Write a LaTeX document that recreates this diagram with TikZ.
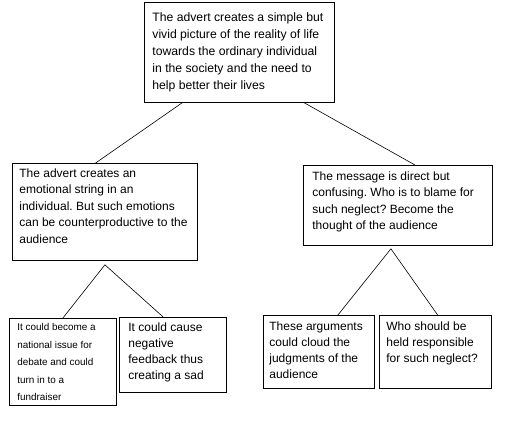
\documentclass[tikz,border=0pt]{standalone}
\usepackage{fontspec}
\setmainfont{Liberation Sans}
\usetikzlibrary{calc}
\frenchspacing

\begin{document}
\begin{tikzpicture}[x=1pt, y=-1pt,
  card/.style={draw, line width=0.8pt, anchor=north west, inner xsep=7pt,
    inner ysep=5pt, font=\fontsize{12}{16.5}\selectfont},
  smallcard/.style={card, font=\fontsize{9.9}{17.6}\selectfont},
  link/.style={draw, line width=0.6pt}]
  \useasboundingbox (0,0) rectangle (506,421);
  % top claim
  \node[card, inner xsep=8pt, inner ysep=10pt, font=\fontsize{12.2}{17}\selectfont] (top) at (144,2)
    {\parbox[t][80pt][t]{174pt}{\raggedright The advert creates a simple but\\
      vivid picture of the reality of life\\ towards the ordinary individual\\
      in the society and the need to\\ help better their lives}};
  % second level
  \node[card] (emotion) at (12,163)
    {\parbox[t][87pt][t]{171pt}{\raggedright The advert creates an\\
      emotional string in an\\ individual. But such emotions\\
      can be counterproductive to the\\ audience}};
  \node[card, inner xsep=9pt, inner ysep=6pt] (message) at (303,165)
    {\parbox[t][68pt][t]{171pt}{\raggedright The message is direct but\\
      confusing. Who is to blame for\\ such neglect? Become the\\
      thought of the audience}};
  % third level
  \node[smallcard, inner xsep=8pt] (debate) at (9,318)
    {\parbox[t][77pt][t]{91pt}{\raggedright It could become a\\
      national issue for\\ debate and could\\ turn in to a\\ fundraiser}};
  \node[card, inner xsep=9pt, font=\fontsize{12}{16}\selectfont] (feedback) at (119,317)
    {\parbox[t][65pt][t]{89pt}{\raggedright It could cause\\ negative\\
      feedback thus\\ creating a sad}};
  \node[card, inner xsep=6pt, inner ysep=6pt, font=\fontsize{12}{16}\selectfont] (cloud) at (263,315)
    {\parbox[t][61pt][t]{99pt}{\raggedright These arguments\\ could cloud the\\
      judgments of the\\ audience}};
  \node[card, inner ysep=6pt, font=\fontsize{12}{16}\selectfont] (blame) at (379,315)
    {\parbox[t][61pt][t]{98pt}{\raggedright Who should be\\ held responsible\\
      for such neglect?}};
  % forks under the second level
  \coordinate (lfork) at ($(emotion.south)+(0,4)$);
  \coordinate (rfork) at ($(message.south)+(-7,3)$);
  \draw[link] ($(top.south west)!0.2!(top.south east)$) -- ($(emotion.north west)!0.45!(emotion.north east)$);
  \draw[link] ($(top.south west)!0.84!(top.south east)$) -- ($(message.north west)!0.59!(message.north east)$);
  \draw[link] ($(debate.north west)!0.5!(debate.north east)$) -- (lfork)
    -- ($(feedback.north west)!0.41!(feedback.north east)$);
  \draw[link] ($(cloud.north west)!0.67!(cloud.north east)$) -- (rfork)
    -- ($(blame.north west)!0.52!(blame.north east)$);
\end{tikzpicture}
\end{document}
